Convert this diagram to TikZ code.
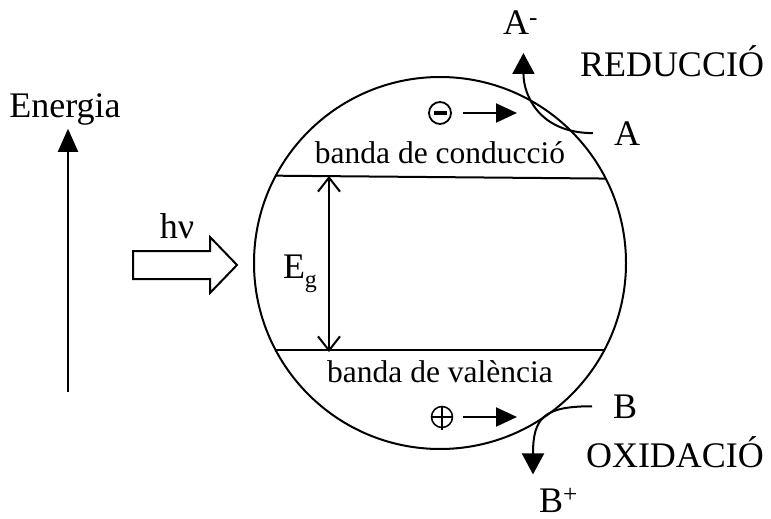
\documentclass[tikz,border=0pt]{standalone}
\usepackage{fontspec}
\setmainfont{Liberation Serif}
\usetikzlibrary{arrows.meta}
\newcommand{\bigtxt}{\fontsize{36}{40}\selectfont}
\newcommand{\bandtxt}{\fontsize{31.5}{34}\selectfont}
\tikzset{
  every picture/.style={line width=2pt},
  lbl/.style={font=\bigtxt, inner sep=3pt, anchor=base},
  bandlbl/.style={font=\bandtxt, inner sep=3pt, anchor=base},
  electron/.style={circle, draw, minimum size=22pt, inner sep=0pt, line width=1.8pt,
    path picture={\fill ([shift={(-6.5pt,-2.2pt)}]path picture bounding box.center) rectangle ++(13pt,4.4pt);}},
  hole/.style={circle, draw, minimum size=21pt, inner sep=0pt, line width=1.5pt},
  flow/.style={-{Triangle[length=21pt, width=19pt]}},
  react/.style={-{Triangle[length=21pt, width=22pt]}},
  gap/.style={{Straight Barb[length=14pt, width=22pt]}-{Straight Barb[length=14pt, width=22pt]}},
}

\begin{document}
\begin{tikzpicture}[x=1pt, y=-1pt]
  \useasboundingbox (0,0) rectangle (771,519);

  % semiconductor particle
  \node[circle, draw, minimum size=372pt, inner sep=0pt, outer sep=0pt] (sc) at (440,263) {};
  \draw (sc.152.1) -- (sc.27.9);
  \draw (sc.208.6) -- (sc.-28.6);
  \node[bandlbl] (cond) at (440,163) {banda de conducció};
  \node[bandlbl] (val) at (440,382) {banda de valència};

  % band gap
  \coordinate (gtop) at (329,176);
  \coordinate (gbot) at (329,352);
  \draw[gap] (gtop) -- (gbot);
  \node[lbl, anchor=base west] (eg) at (279,278) {E\raisebox{-9pt}{\fontsize{24}{24}\selectfont g}};

  % energy axis
  \node[lbl] (en) at (65,117) {Energia};
  \coordinate (enbase) at (68,392);
  \draw[-{Triangle[length=23pt, width=20pt]}] (enbase) -- (en.south -| enbase);

  % light
  \node[lbl] (hv) at (177,238) {hν};
  \draw (133,251) -- (210,251) -- (210,237) -- (237,265) -- (210,293) -- (210,279) -- (133,279) -- cycle;

  % electron and hole
  \node[electron] (el) at (440,113) {};
  \coordinate (elto) at (517,113);
  \draw[flow] ([xshift=11pt]el.east) -- (elto);
  \node[hole] (ho) at (442,417) {};
  \draw[line width=1.5pt] (ho.west) -- (ho.east) (ho.north) -- ([yshift=-13pt]ho.center);
  \coordinate (hoto) at (517,417);
  \draw[flow] ([xshift=10pt]ho.east) -- (hoto);

  % reduction
  \node[lbl, anchor=base west] (Am) at (499,35) {A\textsuperscript{-}};
  \node[lbl] (A) at (627,145) {A};
  \node[lbl] (red) at (672,77) {REDUCCIÓ};
  \draw[react] ([xshift=-17pt]A.west) .. controls +(-53,0) and +(0,43) .. ([xshift=3pt, yshift=-14pt]Am.south);

  % oxidation
  \node[lbl] (B) at (625,418) {B};
  \node[lbl] (ox) at (675,467) {OXIDACIÓ};
  \node[lbl, anchor=base west] (Bp) at (535,512) {B\textsuperscript{+}};
  \draw[react] ([xshift=-17pt]B.west) .. controls +(-48,0) and +(0,-57) .. ([xshift=-2pt, yshift=10pt]Bp.north west);
\end{tikzpicture}
\end{document}
